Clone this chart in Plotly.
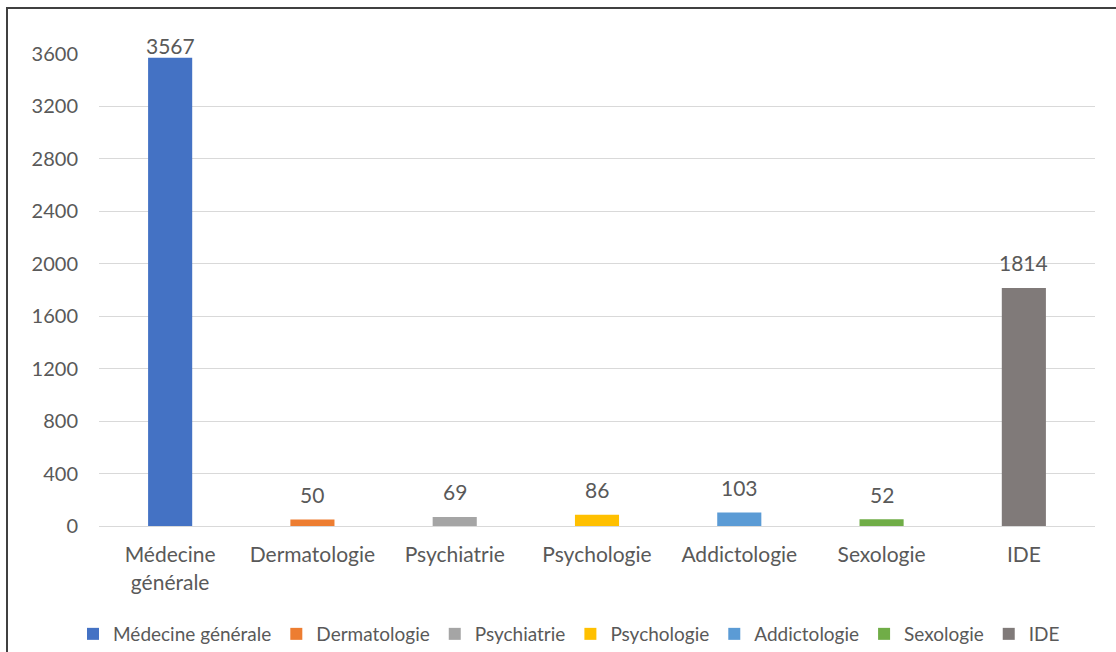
import plotly.graph_objects as go

categories = ["Médecine générale", "Dermatologie", "Psychiatrie", "Psychologie",
              "Addictologie", "Sexologie", "IDE"]
tick_labels = ["Médecine<br>générale", "Dermatologie", "Psychiatrie", "Psychologie",
               "Addictologie", "Sexologie", "IDE"]
values = [3567, 50, 69, 86, 103, 52, 1814]
colors = ["#4472C4", "#ED7D31", "#A5A5A5", "#FFC000", "#5B9BD5", "#70AD47", "#807A79"]
y_ticks = [0, 400, 800, 1200, 1600, 2000, 2400, 2800, 3200, 3600]

FONT = "Lato, Open Sans, sans-serif"
TXT = "#595959"
WID, HEI = 1116, 652
L, R = 99, 21
PLOT_TOP, PLOT_BOT = 53.5, 526
W = WID - L - R
YMAX = 3600
PPU = (PLOT_BOT - PLOT_TOP) / YMAX

fig = go.Figure()
for cat, lab, val, col in zip(categories, tick_labels, values, colors):
    fig.add_trace(go.Bar(
        x=[lab], y=[val], name=cat, marker=dict(color=col, line=dict(width=0)),
        width=0.31, cliponaxis=False,
    ))

annotations = []
for lab, val in zip(tick_labels, values):
    # label sits ~25px above the bar, but is kept inside the chart area (like Excel)
    centre = PLOT_BOT - val * PPU - 25
    shift = 25 - max(0, 45.5 - centre)
    annotations.append(dict(
        x=lab, y=val, xref="x", yref="y", text=str(val), showarrow=False,
        yanchor="middle", yshift=shift, font=dict(family=FONT, size=21, color=TXT)))

fig.update_layout(
    width=WID, height=HEI,
    margin=dict(l=L, r=R, t=0, b=0, pad=0, autoexpand=False),
    paper_bgcolor="white", plot_bgcolor="white",
    barmode="overlay",
    font=dict(family=FONT, size=21, color=TXT),
    showlegend=True,
    legend=dict(orientation="h", x=0.5 - 28 / W, xanchor="center", y=(HEI - 634) / HEI,
                yanchor="middle", font=dict(size=19, color=TXT),
                itemwidth=30, traceorder="normal", bgcolor="rgba(0,0,0,0)"),
    xaxis=dict(categoryorder="array", categoryarray=tick_labels, showgrid=False,
               showline=True, linecolor="#D9D9D9", linewidth=1, ticks="",
               automargin=False, anchor="y",
               ticklabelstandoff=10, tickfont=dict(size=21, color=TXT)),
    yaxis=dict(range=[0, YMAX], tickvals=y_ticks, showgrid=True,
               domain=[(HEI - PLOT_BOT) / HEI, (HEI - PLOT_TOP) / HEI],
               gridcolor="#D9D9D9", gridwidth=1, zeroline=False, showline=False,
               automargin=False,
               ticks="", ticklabelstandoff=20, tickfont=dict(size=20, color=TXT)),
    annotations=annotations,
    shapes=[
        dict(type="line", xref="paper", yref="paper",
             x0=(6 - L) / W, x1=(WID - L) / W, y0=(HEI - 8) / HEI, y1=(HEI - 8) / HEI,
             line=dict(color="#404040", width=2)),
        dict(type="line", xref="paper", yref="paper",
             x0=(7 - L) / W, x1=(7 - L) / W, y0=(HEI - 8) / HEI, y1=-0.05,
             line=dict(color="#404040", width=2)),
    ],
)

fig.write_html("out.html", config={"displayModeBar": False},
               post_script="document.body.style.margin='0';document.body.style.overflow='hidden';")
